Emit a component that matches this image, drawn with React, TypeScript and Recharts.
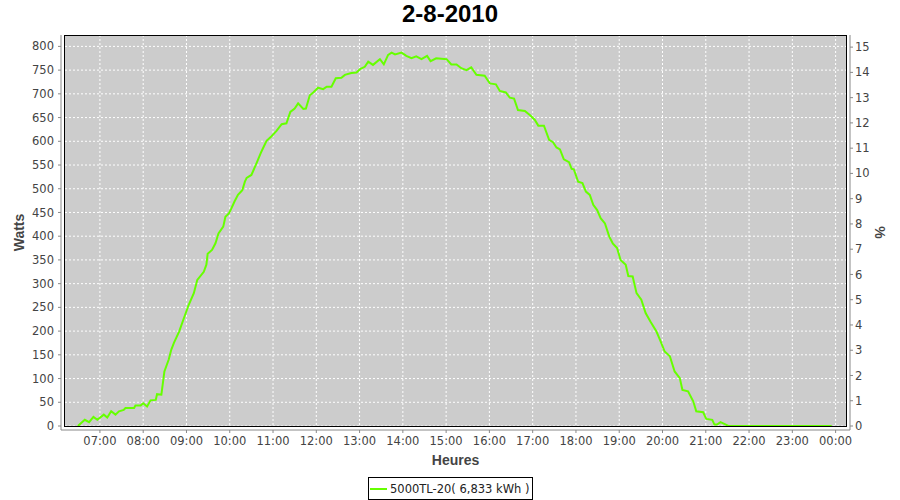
import { CartesianGrid, Legend, Line, LineChart, XAxis, YAxis } from "recharts";

// inverter output, hours of the day (decimal) and watts
const hours = [
  6.49, 6.65, 6.75, 6.85, 6.94, 7.09, 7.17, 7.26, 7.36, 7.44, 7.55, 7.59, 7.79, 7.82, 7.94, 8.0,
  8.09, 8.17, 8.29, 8.32, 8.42, 8.46, 8.49, 8.59, 8.65, 8.71, 8.83, 8.94, 9.05, 9.17, 9.25, 9.4,
  9.46, 9.49, 9.59, 9.67, 9.74, 9.85, 9.9, 9.98, 10.03, 10.11, 10.19, 10.29, 10.35, 10.39, 10.5,
  10.62, 10.73, 10.85, 10.96, 11.08, 11.2, 11.31, 11.4, 11.5, 11.58, 11.7, 11.76, 11.85, 11.93,
  12.04, 12.16, 12.24, 12.35, 12.45, 12.58, 12.66, 12.81, 12.93, 13.01, 13.12, 13.2, 13.31, 13.47,
  13.56, 13.66, 13.74, 13.82, 13.97, 14.08, 14.2, 14.31, 14.43, 14.56, 14.64, 14.77, 15.01, 15.12,
  15.24, 15.35, 15.47, 15.58, 15.7, 15.89, 16.01, 16.15, 16.24, 16.38, 16.47, 16.57, 16.66, 16.82,
  16.94, 17.05, 17.13, 17.26, 17.38, 17.47, 17.55, 17.63, 17.72, 17.84, 17.9, 17.95, 18.05, 18.15,
  18.23, 18.32, 18.4, 18.49, 18.57, 18.67, 18.77, 18.85, 18.95, 19.03, 19.15, 19.21, 19.31, 19.4,
  19.51, 19.61, 19.72, 19.86, 19.94, 20.05, 20.17, 20.28, 20.4, 20.46, 20.59, 20.71, 20.78, 20.94,
  21.01, 21.15, 21.2, 21.26, 21.34, 21.44, 21.52, 23.91,
];
const watts = [
  0, 13, 8, 19, 13, 24, 18, 31, 24, 31, 34, 38, 38, 43, 43, 48,
  41, 54, 55, 67, 66, 94, 115, 140, 161, 175, 199, 227, 255, 280, 308, 325,
  340, 363, 371, 385, 406, 420, 441, 448, 457, 473, 487, 497, 515, 523, 529,
  554, 578, 601, 610, 622, 636, 638, 662, 669, 680, 668, 669, 697, 703,
  713, 710, 715, 715, 733, 734, 740, 744, 745, 752, 757, 768, 761, 773,
  762, 782, 787, 783, 787, 780, 775, 779, 773, 780, 769, 775, 773, 762,
  762, 754, 750, 756, 740, 738, 722, 720, 706, 703, 692, 690, 666, 664,
  655, 645, 633, 633, 603, 598, 587, 583, 562, 556, 542, 541, 515, 512,
  494, 487, 466, 455, 438, 427, 399, 385, 375, 350, 340, 316, 315, 280,
  266, 238, 220, 199, 182, 157, 147, 115, 101, 76, 73, 52, 31, 29,
  15, 13, 3, 3, 8, 4, 0, 0,
];

const hourTicks = [7, 8, 9, 10, 11, 12, 13, 14, 15, 16, 17, 18, 19, 20, 21, 22, 23, 24];
const wattTicks = [0, 50, 100, 150, 200, 250, 300, 350, 400, 450, 500, 550, 600, 650, 700, 750, 800];
const pctTicks = [0, 1, 2, 3, 4, 5, 6, 7, 8, 9, 10, 11, 12, 13, 14, 15];

const chartTitle = "2-8-2010";
const seriesName = "5000TL-20( 6,833 kWh )";

const rows = hours.map((h, i) => ({ h, w: watts[i] }));

const LINE = "#66ff00";
const tickStyle = { fontSize: 11.5, fill: "#444", fontFamily: "DejaVu Sans" };
const axisLabel = { fontSize: 14, fill: "#444", fontWeight: "bold", fontFamily: "Liberation Sans" };

const fmtHour = (v: number) => `${String(v % 24).padStart(2, "0")}:00`;

function LegendBox() {
  return (
    <div
      style={{
        border: "1px solid #000",
        height: 21,
        display: "flex",
        alignItems: "center",
        padding: "0 3px 0 1px",
        fontFamily: "DejaVu Sans",
        fontSize: 11.5,
        color: "#222",
        background: "#fff",
        whiteSpace: "nowrap",
      }}
    >
      <svg width={17} height={4} style={{ marginRight: 3 }}>
        <line x1={0} y1={2} x2={17} y2={2} stroke={LINE} strokeWidth={2} />
      </svg>
      {seriesName}
    </div>
  );
}

export default function App() {
  return (
    <div style={{ position: "absolute", left: 0, top: 0, width: 900, height: 500, background: "#fff" }}>
      <div
        style={{
          position: "absolute",
          left: 0,
          top: 0,
          width: 900,
          textAlign: "center",
          fontFamily: "Liberation Sans",
          fontWeight: "bold",
          fontSize: 24,
          color: "#000",
        }}
      >
        {chartTitle}
      </div>
      {/* plot background */}
      <div
        style={{
          position: "absolute",
          left: 64,
          top: 35,
          width: 783,
          height: 392,
          background: "#cccccc",
        }}
      />
      <div style={{ position: "absolute", left: 0, top: 0 }}>
        <LineChart
          width={900}
          height={500}
          data={rows}
          margin={{ top: 35, right: 0, bottom: 0, left: 0 }}
          style={{ fontFamily: "DejaVu Sans" }}
        >
          <CartesianGrid yAxisId="w" stroke="#ffffff" strokeDasharray="2 2" />
          <XAxis
            dataKey="h"
            type="number"
            domain={[6.17, 24.24]}
            ticks={hourTicks}
            tickFormatter={fmtHour}
            interval={0}
            height={70}
            padding={{ left: 3, right: 4 }}
            allowDataOverflow
            stroke="#888"
            tickSize={3}
            tickMargin={4}
            tick={tickStyle}
            label={{ value: "Heures", position: "insideTop", offset: 25, style: axisLabel }}
          />
          <YAxis
            yAxisId="w"
            orientation="left"
            width={61}
            domain={[0, 824]}
            ticks={wattTicks}
            interval={0}
            padding={{ top: 0, bottom: 4 }}
            allowDataOverflow
            stroke="#888"
            tickSize={3}
            tickMargin={4}
            tick={tickStyle}
            label={{ value: "Watts", angle: -90, position: "center", dx: -11, style: axisLabel }}
          />
          <YAxis
            yAxisId="pct"
            orientation="right"
            width={50}
            domain={[0, 15.48]}
            ticks={pctTicks}
            interval={0}
            padding={{ top: 0, bottom: 4 }}
            allowDataOverflow
            stroke="#888"
            tickSize={3}
            tickMargin={2}
            tick={tickStyle}
            label={{ value: "%", angle: 90, position: "center", dx: 5, style: axisLabel }}
          />
          <Legend
            layout="horizontal"
            verticalAlign="middle"
            align="center"
            content={<LegendBox />}
            wrapperStyle={{ left: 368, top: 477, width: "auto", height: "auto" }}
          />
          <Line
            yAxisId="w"
            dataKey="w"
            name={seriesName}
            type="linear"
            stroke={LINE}
            strokeWidth={2}
            dot={false}
            activeDot={false}
            isAnimationActive={false}
          />
        </LineChart>
      </div>
      {/* plot outline on top */}
      <div
        style={{
          position: "absolute",
          left: 64,
          top: 35,
          width: 783,
          height: 392,
          boxSizing: "border-box",
          border: "1px solid #000",
          pointerEvents: "none",
        }}
      />
    </div>
  );
}
